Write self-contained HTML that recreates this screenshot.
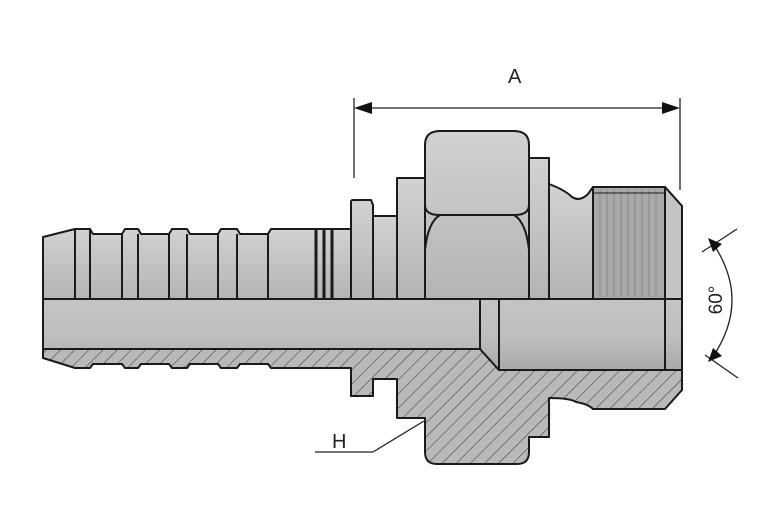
<!DOCTYPE html>
<html><head><style>html,body{margin:0;padding:0;background:#fff;width:783px;height:525px;overflow:hidden}</style></head>
<body>
<svg width="783" height="525" viewBox="0 0 783 525" xmlns="http://www.w3.org/2000/svg">
<defs>
<linearGradient id="g" x1="0" y1="0" x2="0" y2="1"><stop offset="0" stop-color="#d2d2d2"/><stop offset="1" stop-color="#b4b4b4"/></linearGradient>
<linearGradient id="gb" x1="0" y1="0" x2="0" y2="1"><stop offset="0" stop-color="#c4c4c4"/><stop offset="0.5" stop-color="#bfbfbf"/><stop offset="1" stop-color="#aaaaaa"/></linearGradient>
<pattern id="h" width="10" height="10" patternUnits="userSpaceOnUse" patternTransform="rotate(45)">
<rect width="10" height="10" fill="#b9b9b9"/><line x1="0" y1="0" x2="0" y2="10" stroke="#333" stroke-width="1"/></pattern>
</defs>
<g stroke="#1a1a1a" stroke-width="2" stroke-linejoin="round">
<!-- hatched lower section -->
<path fill="url(#h)" d="M43,349 L43,358 L75,368 L90,368 L93,364 L122,364 L125,368 L138,368 L141,364 L169,364 L172,368 L187,368 L190,364 L218,364 L221,368 L237,368 L240,364 L268,364 L271,368 L351,368 L351,396 L373,396 L373,379 L397,379 L397,418 L425,418 L425,452 Q425,464 437,464 L517,464 Q529,464 529,452 L529,437 L549,437 L549,398 Q570,398 576,402 Q588,404 593,409 L665,409 L682,390 L682,370 L499,370 L480,349 Z"/>
<!-- top parts -->
<path fill="url(#g)" d="M43,299 L43,237 L75,229 L90,229 L93,234 L122,234 L125,229 L138,229 L141,234 L169,234 L172,229 L187,229 L190,234 L218,234 L221,229 L237,229 L240,234 L268,234 L271,229 L351,229 L351,299 Z"/>
<g fill="none"><line x1="75" y1="229" x2="75" y2="299"/><line x1="90" y1="229" x2="90" y2="299"/><line x1="122" y1="234" x2="122" y2="299"/><line x1="138" y1="234" x2="138" y2="299"/><line x1="169" y1="234" x2="169" y2="299"/><line x1="187" y1="234" x2="187" y2="299"/><line x1="218" y1="234" x2="218" y2="299"/><line x1="237" y1="234" x2="237" y2="299"/><line x1="268" y1="234" x2="268" y2="299"/></g>
<g stroke-width="3"><line x1="316" y1="229" x2="316" y2="299"/><line x1="324" y1="229" x2="324" y2="299"/><line x1="332" y1="229" x2="332" y2="299"/></g>
<path fill="url(#g)" d="M351,299 L351,202 Q351,200 353,200 L371,200 L373,205 L373,299 Z"/>
<rect x="373" y="216" width="24" height="83" fill="url(#g)"/>
<rect x="397" y="178" width="28" height="121" fill="url(#g)"/>
<rect x="529" y="158" width="20" height="141" fill="url(#g)"/>
<path fill="url(#g)" d="M425,299 L425,145 Q425,131 440,131 L514,131 Q529,131 529,145 L529,299 Z"/>
<path fill="none" d="M425,205 Q425,215 440,215 L514,215 Q529,215 529,205 M425,250 Q428,222 440,215 M529,250 Q526,222 514,215"/>
<path fill="url(#g)" d="M549,299 L549,184 Q565,190 572,197 Q580,202 588,194 L593,187 L593,299 Z"/>
<path fill="#a9a9a9" d="M593,299 L593,187 L665,187 L682,206 L682,299 Z"/>
<g stroke="#888" stroke-width="1"><line x1="600" y1="190" x2="600" y2="297"/><line x1="607" y1="190" x2="607" y2="297"/><line x1="614" y1="190" x2="614" y2="297"/><line x1="621" y1="190" x2="621" y2="297"/><line x1="628" y1="190" x2="628" y2="297"/><line x1="635" y1="190" x2="635" y2="297"/><line x1="642" y1="190" x2="642" y2="297"/><line x1="649" y1="190" x2="649" y2="297"/><line x1="656" y1="190" x2="656" y2="297"/></g>
<path fill="#c4c4c4" d="M665,187 L682,206 L682,299 L665,299 Z"/>
<line x1="593" y1="193" x2="665" y2="193" stroke-width="1"/>
<!-- bore -->
<path fill="url(#gb)" d="M43,299 L682,299 L682,370 L499,370 L480,349 L43,349 Z"/>
<line x1="480" y1="299" x2="480" y2="349"/><line x1="499" y1="299" x2="499" y2="370"/><line x1="665" y1="299" x2="665" y2="370"/>
</g>
<!-- dimension A -->
<g stroke="#222" stroke-width="1.3" fill="none">
<line x1="354" y1="98" x2="354" y2="178"/><line x1="680" y1="98" x2="680" y2="190"/>
<line x1="368" y1="108" x2="666" y2="108"/>
<line x1="315" y1="452" x2="373" y2="452"/><line x1="373" y1="452" x2="424" y2="421"/>
<line x1="702" y1="252" x2="737" y2="229"/><line x1="705" y1="355" x2="738" y2="378"/>
<path d="M712,242 Q752,300 712,358"/>
</g>
<polygon points="354,108 372,102 372,114" fill="#111"/>
<polygon points="680,108 662,102 662,114" fill="#111"/>
<polygon points="708,238 722,244 713,252" fill="#111"/>
<polygon points="708,362 722,356 713,348" fill="#111"/>
<g font-family="Liberation Sans, sans-serif" font-size="20" fill="#222">
<text x="508" y="83">A</text>
<text x="332" y="448">H</text>
<text transform="translate(722,300) rotate(-90)" text-anchor="middle" font-size="19">60°</text>
</g>
</svg>
</body></html>
